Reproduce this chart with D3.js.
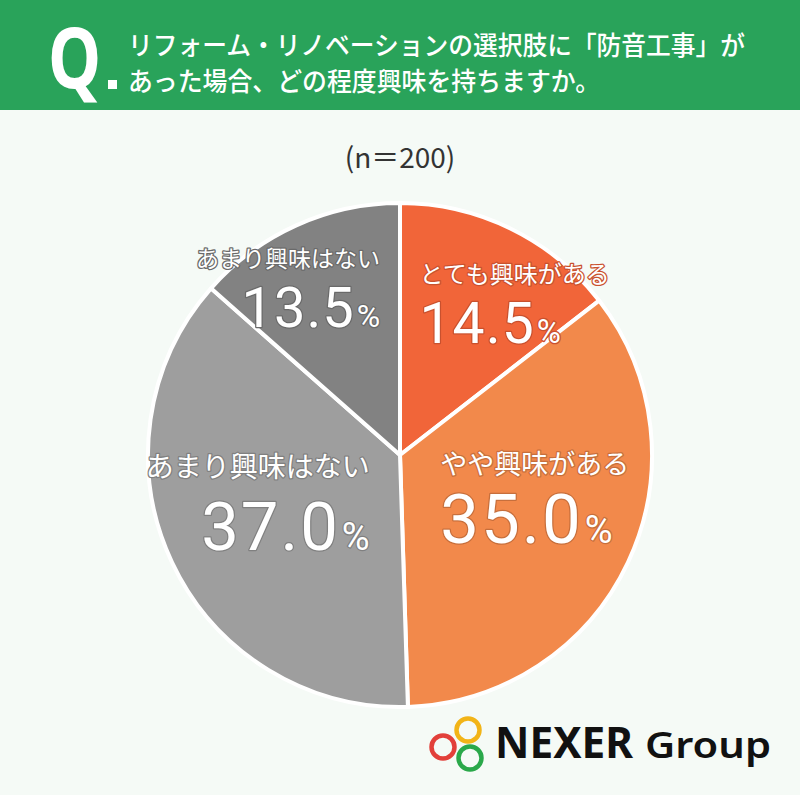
<!DOCTYPE html>
<html><head><meta charset="utf-8">
<script src="https://cdn.jsdelivr.net/npm/d3@7"></script>
<style>
html,body{margin:0;padding:0;background:#f5faf6;}
svg{display:block;}
</style></head>
<body>
<svg id="chart" width="800" height="795"></svg>
<script>
// ---- data ----
const categories = ["とても興味がある", "やや興味がある", "あまり興味はない", "あまり興味はない"];
const values = [14.5, 35.0, 37.0, 13.5];
const sampleLabel = "(n＝200)";
const titleLines = ["リフォーム・リノベーションの選択肢に「防音工事」が", "あった場合、どの程度興味を持ちますか。"];

// ---- style / layout ----
const colors = ["#f16539", "#f2894b", "#9e9e9e", "#828282"];
const halo = ["#c9512e", "#c76f3c", "#808080", "#6a6a6a"];
// label layout: anchor + offsets from arc centroid (r=165)
const labelLayout = [
  {anchor:"start", dx:-53, dy1:-24, dy2:36, f1:24, f2:57, fp:33, ls:1},
  {anchor:"start", dx:-109, dy1:-51, dy2:18, f1:27, f2:69, fp:38, ls:2},
  {anchor:"end",   dx:119, dy1:-48, dy2:25, f1:28, f2:67, fp:38, ls:2},
  {anchor:"end",   dx:48,  dy1:-38, dy2:22, f1:23, f2:56, fp:32, ls:1}
];

const svg = d3.select("#chart");
const W = 800, H = 795;
const jp = "'Noto Sans CJK JP','Noto Sans',sans-serif";
const num = "Roboto,'Noto Sans',sans-serif";

svg.append("rect").attr("width", W).attr("height", H).attr("fill", "#f5faf6");
// header
svg.append("rect").attr("width", W).attr("height", 110).attr("fill", "#29a35a");
svg.append("text").attr("x", 48).attr("y", 88).attr("fill", "#fff")
  .attr("font-family", "'Noto Sans',sans-serif").attr("font-weight", 700)
  .attr("font-size", 84).attr("transform", "translate(48,0) scale(0.8,1) translate(-48,0)")
  .text("Q");
svg.append("rect").attr("x", 108).attr("y", 80).attr("width", 9).attr("height", 9).attr("fill", "#fff");
svg.selectAll(".title").data(titleLines).join("text")
  .attr("x", 128).attr("y", (d, i) => 55 + i * 36)
  .attr("fill", "#fff").attr("font-family", jp).attr("font-weight", 500)
  .attr("font-size", 26).attr("textLength", (d, i) => i === 0 ? 617 : 472)
  .attr("lengthAdjust", "spacingAndGlyphs")
  .text(d => d);

// sample size
svg.append("text").attr("x", 400).attr("y", 168).attr("text-anchor", "middle")
  .attr("fill", "#333").attr("font-family", jp).attr("font-weight", 400)
  .attr("font-size", 28).text(sampleLabel);

// pie
const cx = 400, cy = 455, R = 252;
const g = svg.append("g").attr("transform", `translate(${cx},${cy})`);
const pie = d3.pie().sort(null).value(d => d);
const arcs = pie(values);
const arc = d3.arc().innerRadius(0).outerRadius(R);
const labelArc = d3.arc().innerRadius(165).outerRadius(165);

g.selectAll("path.slice").data(arcs).join("path")
  .attr("class", "slice")
  .attr("d", arc)
  .attr("fill", (d, i) => colors[i])
  .attr("stroke", "#ffffff").attr("stroke-width", 4).attr("stroke-linejoin", "round");

const lab = g.selectAll("g.lab").data(arcs).join("g").attr("class", "lab")
  .attr("transform", d => { const c = labelArc.centroid(d); return `translate(${c[0]},${c[1]})`; });

lab.append("text")
  .attr("x", (d, i) => labelLayout[i].dx).attr("y", (d, i) => labelLayout[i].dy1)
  .attr("text-anchor", (d, i) => labelLayout[i].anchor)
  .attr("font-family", jp).attr("font-weight", 400)
  .attr("font-size", (d, i) => labelLayout[i].f1)
  .attr("fill", "#fff").attr("stroke", (d, i) => halo[i]).attr("stroke-width", 2.5)
  .attr("paint-order", "stroke").attr("stroke-linejoin", "round")
  .text((d, i) => categories[i]);

const pct = lab.append("text")
  .attr("x", (d, i) => labelLayout[i].dx).attr("y", (d, i) => labelLayout[i].dy2)
  .attr("text-anchor", (d, i) => labelLayout[i].anchor)
  .attr("font-family", num).attr("font-weight", 400)
  .attr("fill", "#fff").attr("stroke", (d, i) => halo[i]).attr("stroke-width", 2.5)
  .attr("paint-order", "stroke").attr("stroke-linejoin", "round");
pct.append("tspan").attr("font-size", (d, i) => labelLayout[i].f2)
  .attr("letter-spacing", (d, i) => labelLayout[i].ls).text(d => d.data.toFixed(1));
pct.append("tspan").attr("font-size", (d, i) => labelLayout[i].fp)
  .attr("letter-spacing", 0).attr("dx", 2).text("%");

// logo
const logo = svg.append("g");
[[468, 730, "#f2b417"], [443, 747, "#e2403a"], [470, 758, "#2aa84a"]].forEach(c => {
  logo.append("circle").attr("cx", c[0]).attr("cy", c[1]).attr("r", 11.5)
    .attr("fill", "none").attr("stroke", c[2]).attr("stroke-width", 4.5);
});
logo.append("text").attr("x", 495).attr("y", 758).attr("fill", "#111")
  .attr("font-family", "'Noto Sans',sans-serif").attr("font-weight", 700)
  .attr("font-size", 43).attr("textLength", 138).attr("lengthAdjust", "spacingAndGlyphs").text("NEXER");
logo.append("text").attr("x", 645).attr("y", 758).attr("fill", "#111")
  .attr("font-family", "'Noto Sans',sans-serif").attr("font-weight", 600)
  .attr("font-size", 36).attr("textLength", 126).attr("lengthAdjust", "spacingAndGlyphs").text("Group");
</script>
</body></html>
